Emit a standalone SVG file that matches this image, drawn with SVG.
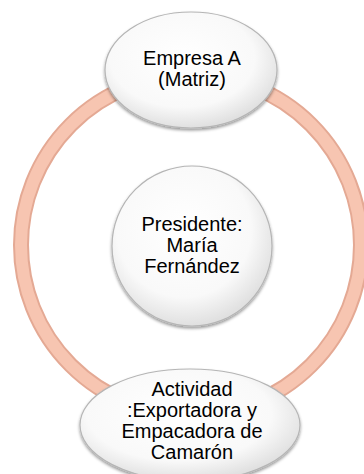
<svg xmlns="http://www.w3.org/2000/svg" width="364" height="474" viewBox="0 0 364 474">
<defs>
<radialGradient id="bub" cx="0.45" cy="0.4" r="0.6">
<stop offset="0" stop-color="#ffffff"/>
<stop offset="0.7" stop-color="#f9f9f9"/>
<stop offset="1" stop-color="#e0e0e0"/>
</radialGradient>
<filter id="sh" x="-20%" y="-20%" width="140%" height="150%">
<feDropShadow dx="0" dy="2" stdDeviation="1.5" flood-color="#000" flood-opacity="0.4"/>
</filter>
</defs>
<style>
.node{fill:url(#bub);stroke:#b5b5b5;stroke-width:1.2;filter:url(#sh)}
.lbl{font-family:"Liberation Sans",Arial,sans-serif;font-size:20px;fill:#000;text-anchor:middle}
.ring-o{fill:none;stroke:#E4A994;stroke-width:16}
.ring-i{fill:none;stroke:#F7C5B1;stroke-width:12}
</style>
<rect width="364" height="474" fill="#ffffff"/>
<g id="connectors">
<circle class="ring-o" cx="191" cy="245" r="170"/>
<circle class="ring-i" cx="191" cy="245" r="170"/>
</g>
<g id="node-top">
<ellipse class="node" cx="191" cy="70" rx="86" ry="58"/>
<text class="lbl" x="192" y="65">Empresa A</text>
<text class="lbl" x="192" y="86">(Matriz)</text>
</g>
<g id="node-center">
<circle class="node" cx="192" cy="246" r="80"/>
<text class="lbl" x="192" y="231">Presidente:</text>
<text class="lbl" x="192" y="252">María</text>
<text class="lbl" x="192" y="273">Fernández</text>
</g>
<g id="node-bottom">
<ellipse class="node" cx="190" cy="425" rx="110" ry="56"/>
<text class="lbl" x="192" y="396">Actividad</text>
<text class="lbl" x="192" y="417">:Exportadora y</text>
<text class="lbl" x="192" y="438">Empacadora de</text>
<text class="lbl" x="192" y="459">Camarón</text>
</g>
</svg>
